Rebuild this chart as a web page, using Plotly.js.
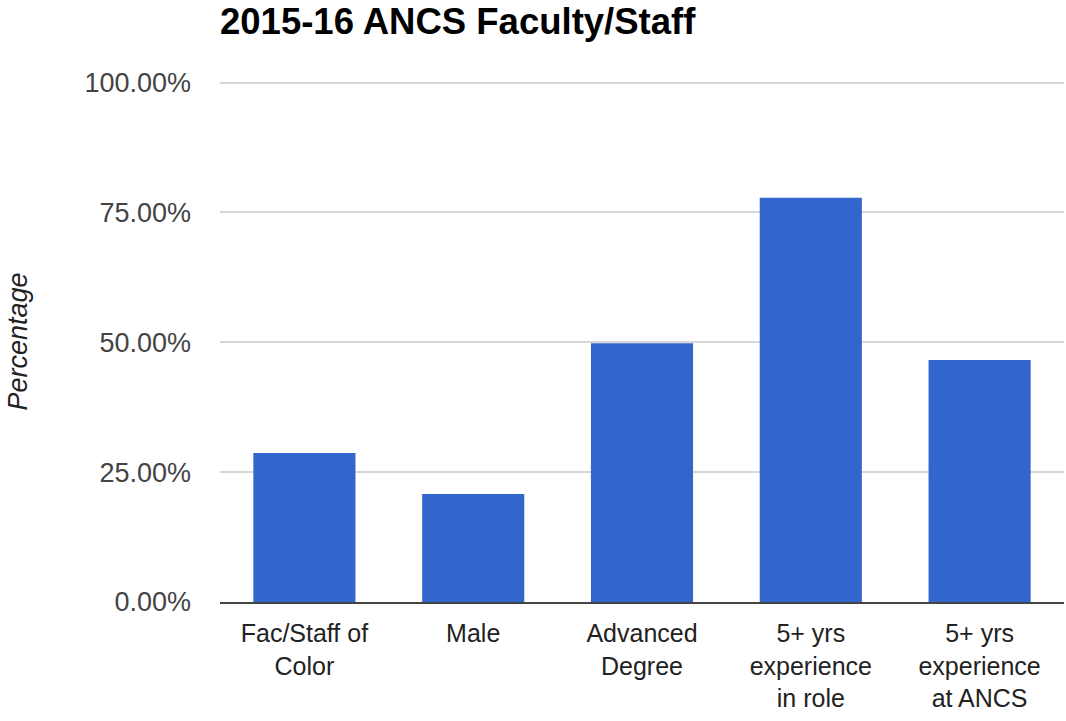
<!DOCTYPE html>
<html>
<head>
<meta charset="utf-8">
<script src="https://cdn.plot.ly/plotly-3.0.1.min.js"></script>
<style>html,body{margin:0;padding:0;background:#fff;}#chart{width:1066px;height:721px;}</style>
</head>
<body>
<div id="chart"></div>
<script>
const categories = ["Fac/Staff of<br>Color", "Male", "Advanced<br>Degree", "5+ yrs<br>experience<br>in role", "5+ yrs<br>experience<br>at ANCS"];
const percentages = [0.287, 0.208, 0.498, 0.778, 0.466];
const yTickValues = [0, 0.25, 0.5, 0.75, 1];

const FONT = "Liberation Sans, Arial, sans-serif";

Plotly.newPlot("chart", [{
  type: "bar",
  x: categories,
  y: percentages,
  marker: {color: "#3366cc", line: {width: 0}},
  hoverinfo: "x+y"
}], {
  width: 1066,
  height: 721,
  paper_bgcolor: "#ffffff",
  plot_bgcolor: "#ffffff",
  margin: {l: 220, r: 2, t: 81, b: 118.5, pad: 0},
  showlegend: false,
  bargap: 0.395,
  title: {
    text: "<b>2015-16 ANCS Faculty/Staff</b>",
    font: {family: FONT, size: 36.5, color: "#000000"},
    x: 0, xref: "paper", xanchor: "left",
    y: 1 - 21/721, yref: "container", yanchor: "middle"
  },
  xaxis: {
    tickfont: {family: FONT, size: 25, color: "#222222"},
    showline: true, linecolor: "#444444", linewidth: 2,
    showgrid: false, ticks: "", ticklabelstandoff: 8,
    fixedrange: true
  },
  yaxis: {
    range: [0, 1.003],
    tickvals: yTickValues,
    tickformat: ".2%",
    tickfont: {family: FONT, size: 27, color: "#444444"},
    showgrid: true, gridcolor: "#d6d6d6", gridwidth: 2,
    zeroline: false, showline: false, ticks: "",
    ticklabelstandoff: 28,
    title: {text: "<i>Percentage</i>", font: {family: FONT, size: 27, color: "#222222"}, standoff: 48},
    fixedrange: true
  }
}, {displayModeBar: false, staticPlot: true});
</script>
</body>
</html>
